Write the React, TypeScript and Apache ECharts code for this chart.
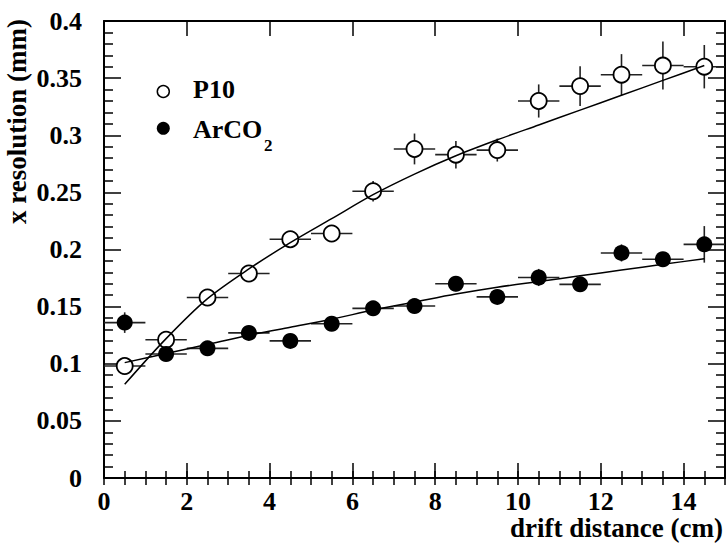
import React, { useEffect, useRef } from "react";
import * as echarts from "echarts";

// ---- data ----
const xCenters = [0.5, 1.5, 2.5, 3.5, 4.5, 5.5, 6.5, 7.5, 8.5, 9.5, 10.5, 11.5, 12.5, 13.5, 14.5];
const binHalfWidth = 0.5;

const p10Res = [0.098, 0.121, 0.158, 0.179, 0.209, 0.214, 0.251, 0.288, 0.283, 0.287, 0.330, 0.343, 0.353, 0.361, 0.360];
const p10Err = [0.004, 0.005, 0.005, 0.006, 0.006, 0.005, 0.009, 0.0135, 0.012, 0.010, 0.0145, 0.0175, 0.018, 0.021, 0.019];

const arco2Res = [0.136, 0.1085, 0.1135, 0.127, 0.120, 0.135, 0.1485, 0.1505, 0.170, 0.1585, 0.1755, 0.1695, 0.197, 0.1915, 0.2045];
const arco2Err = [0.009, 0.005, 0.005, 0.005, 0.005, 0.005, 0.005, 0.005, 0.0065, 0.005, 0.0075, 0.005, 0.0075, 0.006, 0.016];

const fitX = [0.5, 1.5, 2.5, 3.5, 4.5, 5.5, 6.5, 7.5, 8.5, 9.5, 10.5, 11.5, 12.5, 13.5, 14.5];
const p10Fit = [0.082, 0.122, 0.157, 0.183, 0.206, 0.227, 0.248, 0.266, 0.282, 0.296, 0.309, 0.322, 0.335, 0.348, 0.361];
const arco2Fit = [0.101, 0.109, 0.117, 0.125, 0.132, 0.139, 0.147, 0.154, 0.161, 0.167, 0.172, 0.177, 0.182, 0.187, 0.192];

const xRange = [0, 15];
const xMajorStep = 2;
const xMinorStep = 0.5;
const yRange = [0, 0.4];
const yMajorStep = 0.05;
const yMinorSplits = 5;

const seriesNames = ["P10", "ArCO"];
const subscript = "2";
const xTitle = "drift distance (cm)";
const yTitle = "x resolution (mm)";

const FONT = "'Liberation Serif', 'Times New Roman', serif";

export default function App() {
  const ref = useRef<HTMLDivElement>(null);

  useEffect(() => {
    document.body.style.margin = "0";
    if (!ref.current) return;
    const chart = echarts.init(ref.current, undefined, { renderer: "svg" });

    const axisLine = { show: true, onZero: false, lineStyle: { color: "#000", width: 2 } };
    const labelStyle = { color: "#000", fontFamily: FONT, fontWeight: "bold" as const, fontSize: 26 };

    const xMajor = (position: string, labels: boolean) => ({
      type: "value",
      position,
      min: xRange[0],
      max: xRange[1],
      interval: xMajorStep,
      axisLine,
      axisTick: { show: true, inside: true, length: 15, lineStyle: { color: "#000", width: 1.5 } },
      axisLabel: labels
        ? { show: true, ...labelStyle, margin: 10, showMaxLabel: false }
        : { show: false },
      splitLine: { show: false },
    });
    const xMinor = (position: string) => ({
      type: "value",
      position,
      min: xRange[0],
      max: xRange[1],
      interval: xMinorStep,
      axisLine: { show: false },
      axisTick: { show: true, inside: true, length: 7, lineStyle: { color: "#000", width: 1.5 } },
      axisLabel: { show: false },
      splitLine: { show: false },
    });
    const yAx = (position: string, labels: boolean) => ({
      type: "value",
      position,
      min: yRange[0],
      max: yRange[1],
      interval: yMajorStep,
      axisLine,
      axisTick: { show: true, inside: true, length: 17, lineStyle: { color: "#000", width: 1.5 } },
      minorTick: { show: true, splitNumber: yMinorSplits, length: 9, lineStyle: { color: "#000", width: 1.5 } },
      axisLabel: labels ? { show: true, ...labelStyle, margin: 22 } : { show: false },
      splitLine: { show: false },
      minorSplitLine: { show: false },
    });

    const errRender = (params: any, api: any) => {
      const x = api.value(0);
      const y = api.value(1);
      const ey = api.value(2);
      const ex = api.value(3);
      const l = api.coord([x - ex, y]);
      const r = api.coord([x + ex, y]);
      const t = api.coord([x, y + ey]);
      const b = api.coord([x, y - ey]);
      const style = { stroke: "#222", lineWidth: 1.6 };
      return {
        type: "group",
        children: [
          { type: "line", shape: { x1: l[0], y1: l[1], x2: r[0], y2: r[1] }, style },
          { type: "line", shape: { x1: t[0], y1: t[1], x2: b[0], y2: b[1] }, style },
        ],
      };
    };

    const errData = (vals: number[], errs: number[]) =>
      xCenters.map((x, i) => [x, vals[i], errs[i], binHalfWidth]);

    chart.setOption({
      animation: false,
      backgroundColor: "#fff",
      grid: { left: 104, right: 1, top: 21, bottom: 66, containLabel: false },
      xAxis: [xMajor("bottom", true), xMinor("bottom"), xMajor("top", false), xMinor("top")],
      yAxis: [yAx("left", true), yAx("right", false)],
      series: [
        {
          type: "custom",
          name: "p10err",
          renderItem: errRender,
          encode: { x: 0, y: 1 },
          data: errData(p10Res, p10Err),
          z: 1,
          silent: true,
        },
        {
          type: "custom",
          name: "arco2err",
          renderItem: errRender,
          encode: { x: 0, y: 1 },
          data: errData(arco2Res, arco2Err),
          z: 1,
          silent: true,
        },
        {
          type: "scatter",
          name: seriesNames[0],
          symbol: "circle",
          symbolSize: 16,
          itemStyle: { color: "#fff", borderColor: "#000", borderWidth: 1.8, opacity: 1 },
          data: xCenters.map((x, i) => [x, p10Res[i]]),
          z: 2,
        },
        {
          type: "scatter",
          name: seriesNames[1] + subscript,
          symbol: "circle",
          symbolSize: 16,
          itemStyle: { color: "#000", opacity: 1 },
          data: xCenters.map((x, i) => [x, arco2Res[i]]),
          z: 2,
        },
        {
          type: "line",
          name: "p10fit",
          data: fitX.map((x, i) => [x, p10Fit[i]]),
          smooth: 0.3,
          showSymbol: false,
          symbol: "none",
          lineStyle: { color: "#000", width: 1.5 },
          z: 3,
        },
        {
          type: "line",
          name: "arco2fit",
          data: fitX.map((x, i) => [x, arco2Fit[i]]),
          smooth: 0.3,
          showSymbol: false,
          symbol: "none",
          lineStyle: { color: "#000", width: 1.5 },
          z: 3,
        },
      ],
      graphic: [
        {
          type: "circle",
          shape: { cx: 163.3, cy: 91.5, r: 6 },
          style: { fill: "#fff", stroke: "#000", lineWidth: 1.5 },
        },
        {
          type: "circle",
          shape: { cx: 163.3, cy: 128.3, r: 6.5 },
          style: { fill: "#000" },
        },
        {
          type: "text",
          x: 193,
          y: 89.5,
          style: { text: seriesNames[0], fill: "#000", font: `bold 26px ${FONT}`, align: "left", verticalAlign: "middle" },
        },
        {
          type: "text",
          x: 193,
          y: 129.5,
          style: { text: seriesNames[1], fill: "#000", font: `bold 26px ${FONT}`, align: "left", verticalAlign: "middle" },
        },
        {
          type: "text",
          x: 264,
          y: 145,
          style: { text: subscript, fill: "#000", font: `bold 17px ${FONT}`, align: "left", verticalAlign: "middle" },
        },
        {
          type: "text",
          x: 723,
          y: 528,
          style: { text: xTitle, fill: "#000", font: `bold 27px ${FONT}`, align: "right", verticalAlign: "middle" },
        },
        {
          type: "text",
          x: 17,
          y: 19,
          rotation: Math.PI / 2,
          style: { text: yTitle, fill: "#000", font: `bold 27px ${FONT}`, align: "right", verticalAlign: "middle" },
        },
      ],
    });

    return () => chart.dispose();
  }, []);

  return <div ref={ref} style={{ width: 726, height: 544 }} />;
}
